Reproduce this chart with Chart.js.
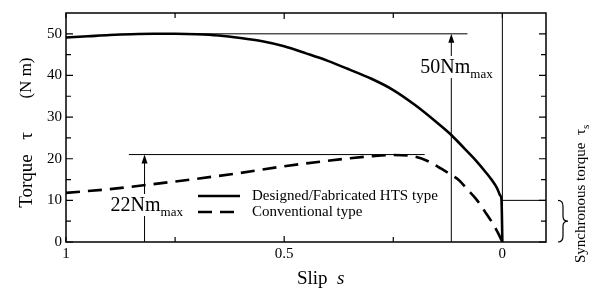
<!DOCTYPE html>
<html>
<head>
<meta charset="utf-8">
<script src="https://cdn.jsdelivr.net/npm/chart.js@4.4.1/dist/chart.umd.min.js"></script>
<style>
    html, body { margin: 0; padding: 0; background: #fff; }
    #wrap { width: 595px; height: 292px; }
</style>
</head>
<body>
<div id="wrap"><canvas id="torqueChart"></canvas></div>
<script>
// slip s (1 -> 0) and torque (N m)
const htsSlip = [1, 0.95, 0.9, 0.85, 0.8, 0.75, 0.7, 0.65, 0.6, 0.55, 0.5, 0.45, 0.4, 0.35, 0.3, 0.25, 0.2, 0.15, 0.12, 0.1, 0.08, 0.06, 0.04, 0.025, 0.012, 0.005, 0.002, 0];
const htsTorque = [49.1, 49.4, 49.7, 49.9, 50.0, 50.0, 49.9, 49.6, 49.0, 48.2, 47.0, 45.3, 43.5, 41.4, 39.2, 36.5, 32.9, 28.7, 26.0, 23.9, 21.7, 19.5, 17.0, 15.0, 12.9, 11.2, 10.2, 0];

const convSlip = [1, 0.9, 0.8, 0.7, 0.6, 0.5, 0.4, 0.35, 0.3, 0.25, 0.2, 0.17, 0.14, 0.12, 0.1, 0.08, 0.06, 0.04, 0.02, 0.01, 0];
const convTorque = [11.8, 12.7, 13.9, 15.2, 16.6, 18.2, 19.5, 20.1, 20.6, 20.9, 20.5, 19.4, 17.6, 16.3, 14.9, 12.6, 10.3, 7.3, 4.1, 2.2, 0];

const seriesLabels = ['Designed/Fabricated HTS type', 'Conventional type'];

// axis ticks
const xTickLabels = { 1: '1', 0.5: '0.5', 0: '0' };
const xMinorTicks = [1, 0.75, 0.5, 0.25, 0];
const yTickValues = [0, 10, 20, 30, 40, 50];

// annotations
const htsMax = 50;
const convMax = 21;
const htsMaxSpan = [0.85, 0.08];
const convMaxSpan = [0.856, 0.178];
const htsArrowSlip = 0.117;
const convArrowSlip = 0.82;
const syncTorque = 10;

const serif = "'Liberation Serif', 'DejaVu Serif', serif";

const thin = (pts) => ({
    data: pts,
    borderColor: '#000',
    borderWidth: 1,
    pointRadius: 0,
    tension: 0,
    fill: false
});

const pairs = (xs, ys) => xs.map((x, i) => ({ x: x, y: ys[i] }));

const extras = {
    id: 'extras',
    afterDatasetsDraw(chart) {
        const { ctx, chartArea: a, scales: { x, y } } = chart;
        ctx.save();

        // frame
        ctx.strokeStyle = '#000';
        ctx.lineWidth = 1.5;
        ctx.strokeRect(a.left, a.top, a.right - a.left, a.bottom - a.top);

        // inward ticks
        ctx.lineWidth = 1.2;
        ctx.beginPath();
        xMinorTicks.forEach(v => {
            const px = x.getPixelForValue(v);
            const len = (v === 0.5) ? 6 : 5;
            ctx.moveTo(px, a.bottom); ctx.lineTo(px, a.bottom - len);
            ctx.moveTo(px, a.top); ctx.lineTo(px, a.top + len);
        });
        for (let v = 0; v <= 50; v += 5) {
            const py = y.getPixelForValue(v);
            const len = v % 10 === 0 ? 7 : 5;
            ctx.moveTo(a.left, py); ctx.lineTo(a.left + len, py);
            ctx.moveTo(a.right, py); ctx.lineTo(a.right - len, py);
        }
        ctx.stroke();

        // arrowheads
        const arrowHead = (s, t) => {
            const px = x.getPixelForValue(s);
            const py = y.getPixelForValue(t);
            ctx.beginPath();
            ctx.moveTo(px, py);
            ctx.lineTo(px - 3, py + 9);
            ctx.lineTo(px + 3, py + 9);
            ctx.closePath();
            ctx.fillStyle = '#000';
            ctx.fill();
        };
        arrowHead(htsArrowSlip, htsMax);
        arrowHead(convArrowSlip, convMax);

        // max labels with white background
        const maxLabel = (s, text, dx, base) => {
            const left = x.getPixelForValue(s) + dx;
            ctx.font = '20px ' + serif;
            const w1 = ctx.measureText(text).width;
            ctx.font = '13px ' + serif;
            const w2 = ctx.measureText('max').width;
            ctx.fillStyle = '#fff';
            ctx.fillRect(left - 1, base - 17, w1 + w2 + 3, 22);
            ctx.fillStyle = '#000';
            ctx.textBaseline = 'alphabetic';
            ctx.textAlign = 'left';
            ctx.font = '20px ' + serif;
            ctx.fillText(text, left, base);
            ctx.font = '13px ' + serif;
            ctx.fillText('max', left + w1, base + 5);
        };
        maxLabel(htsArrowSlip, '50Nm', -31, 73);
        maxLabel(convArrowSlip, '22Nm', -34, 211);

        // legend
        ctx.lineWidth = 2.6;
        ctx.strokeStyle = '#000';
        ctx.beginPath();
        ctx.setLineDash([]);
        ctx.moveTo(198, 196); ctx.lineTo(240, 196);
        ctx.stroke();
        ctx.beginPath();
        ctx.setLineDash([14, 8]);
        ctx.moveTo(198, 212); ctx.lineTo(240, 212);
        ctx.stroke();
        ctx.setLineDash([]);
        ctx.fillStyle = '#000';
        ctx.font = '15px ' + serif;
        ctx.textBaseline = 'middle';
        ctx.fillText(seriesLabels[0], 252, 196);
        ctx.fillText(seriesLabels[1], 252, 212);

        // brace for synchronous torque
        const yTop = y.getPixelForValue(syncTorque);
        const yBot = y.getPixelForValue(0);
        const yMid = (yTop + yBot) / 2;
        const bx = 558;
        ctx.lineWidth = 1.2;
        ctx.beginPath();
        ctx.moveTo(bx, yTop);
        ctx.quadraticCurveTo(bx + 5, yTop, bx + 5, yTop + 6);
        ctx.lineTo(bx + 5, yMid - 5);
        ctx.quadraticCurveTo(bx + 5, yMid, bx + 10, yMid);
        ctx.quadraticCurveTo(bx + 5, yMid, bx + 5, yMid + 5);
        ctx.lineTo(bx + 5, yBot - 6);
        ctx.quadraticCurveTo(bx + 5, yBot, bx, yBot);
        ctx.stroke();

        // axis titles
        ctx.fillStyle = '#000';
        ctx.textBaseline = 'middle';
        ctx.textAlign = 'center';
        ctx.save();
        ctx.translate(27, 0);
        ctx.rotate(-Math.PI / 2);
        ctx.font = '19px ' + serif;
        ctx.fillText('Torque', -181, 0);
        ctx.fillText('τ', -136, 0);
        ctx.font = '17px ' + serif;
        ctx.fillText('(N m)', -78, 0);
        ctx.restore();

        ctx.textBaseline = 'alphabetic';
        ctx.textAlign = 'left';
        ctx.font = '19px ' + serif;
        ctx.fillText('Slip', 297, 284);
        ctx.font = 'italic 19px ' + serif;
        ctx.fillText('s', 337, 284);

        ctx.save();
        ctx.translate(585, 263);
        ctx.rotate(-Math.PI / 2);
        ctx.font = '15px ' + serif;
        ctx.textAlign = 'left';
        ctx.textBaseline = 'alphabetic';
        const sync = 'Synchronous torque  τ';
        ctx.fillText(sync, 0, 0);
        const sw = ctx.measureText(sync).width;
        ctx.font = '11px ' + serif;
        ctx.fillText('s', sw, 4);
        ctx.restore();

        ctx.restore();
    }
};

new Chart(document.getElementById('torqueChart'), {
    type: 'line',
    data: {
        datasets: [
            {
                label: seriesLabels[0],
                data: pairs(htsSlip, htsTorque),
                borderColor: '#000',
                borderWidth: 2.6,
                pointRadius: 0,
                cubicInterpolationMode: 'monotone',
                fill: false
            },
            {
                label: seriesLabels[1],
                data: pairs(convSlip, convTorque),
                borderColor: '#000',
                borderWidth: 2.6,
                borderDash: [14, 8],
                pointRadius: 0,
                cubicInterpolationMode: 'monotone',
                fill: false
            },
            thin([{ x: htsMaxSpan[0], y: htsMax }, { x: htsMaxSpan[1], y: htsMax }]),
            thin([{ x: convMaxSpan[0], y: convMax }, { x: convMaxSpan[1], y: convMax }]),
            thin([{ x: htsArrowSlip, y: 0 }, { x: htsArrowSlip, y: htsMax - 1 }]),
            thin([{ x: convArrowSlip, y: 0 }, { x: convArrowSlip, y: convMax - 1 }]),
            thin([{ x: 0, y: 0 }, { x: 0, y: 55 }]),
            thin([{ x: 0, y: syncTorque }, { x: -0.1, y: syncTorque }])
        ]
    },
    options: {
        responsive: true,
        maintainAspectRatio: false,
        animation: false,
        layout: { padding: { left: 0, top: 8, right: 49, bottom: 0 } },
        plugins: {
            legend: { display: false },
            tooltip: { enabled: false }
        },
        scales: {
            x: {
                type: 'linear',
                reverse: true,
                min: -0.1,
                max: 1,
                grid: { display: false, drawTicks: false },
                border: { display: false },
                ticks: {
                    stepSize: 0.5,
                    includeBounds: false,
                    maxRotation: 0,
                    padding: 3,
                    color: '#000',
                    font: { family: serif, size: 15 },
                    callback: (v) => xTickLabels[v] ?? ''
                },
                afterFit: (scale) => { scale.height = 50; }
            },
            y: {
                min: 0,
                max: 55,
                grid: { display: false, drawTicks: false },
                border: { display: false },
                afterBuildTicks: (scale) => { scale.ticks = yTickValues.map(v => ({ value: v })); },
                ticks: {
                    padding: 4,
                    color: '#000',
                    font: { family: serif, size: 15 }
                },
                afterFit: (scale) => { scale.width = 66; }
            }
        }
    },
    plugins: [extras]
});
</script>
</body>
</html>
